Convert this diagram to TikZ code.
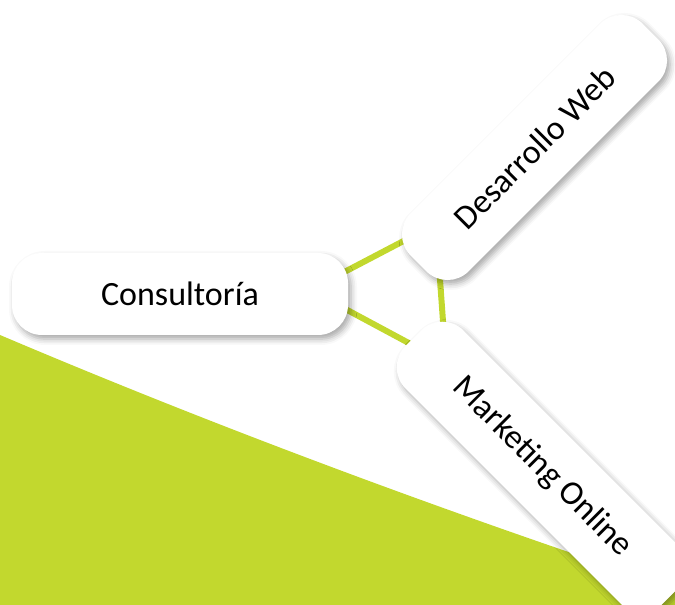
\documentclass[tikz,border=0pt]{standalone}
\usepackage{fontspec}
\setmainfont{Carlito}
\usetikzlibrary{shadows.blur}
\definecolor{lima}{RGB}{194,216,46}
\begin{document}
\begin{tikzpicture}[x=1pt, y=1pt, line join=round,
		caja/.style={fill=white, rounded corners=30pt, minimum height=82pt, inner sep=0pt,
			font=\fontsize{34}{40}\selectfont,
			blur shadow={shadow xshift=3pt, shadow yshift=-4pt, shadow blur radius=6pt, shadow opacity=35}},
		enlace/.style={draw=lima, line width=6pt, line cap=butt}]
	\clip (0,0) rectangle (675,605);
	% fondo verde
	\fill[lima] (0,270) .. controls (212,180) and (437,96) .. (675,17) -- (675,0) -- (0,0) -- cycle;
	% triangulo de enlaces
	\coordinate (pc) at (310,315);
	\coordinate (pd) at (436,381);
	\coordinate (pm) at (446,242);
	\draw[enlace] (pc) -- (pd);
	\draw[enlace] (pc) -- (pm);
	\draw[enlace] (pd) -- (pm);
	% cajas
	\node[caja, minimum width=336pt] (cons) at (180,311) {Consultoría};
	\node[caja, minimum width=328pt, rotate=45] (web) at (534.5,457.5) {Desarrollo Web};
	\node[caja, minimum width=364pt, rotate=-45] (mkt) at (542,138) {Marketing Online};
\end{tikzpicture}
\end{document}
